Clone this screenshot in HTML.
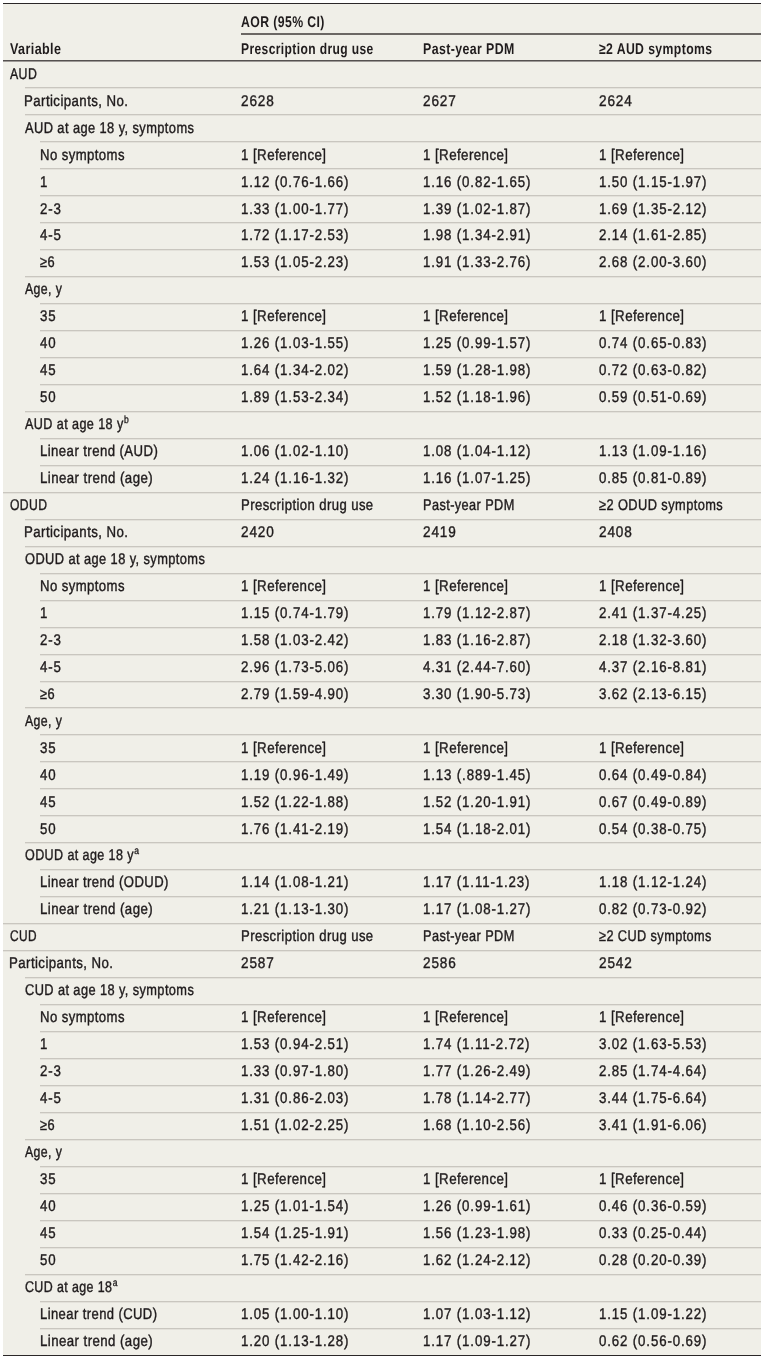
<!DOCTYPE html>
<html lang="en"><head><meta charset="utf-8"><title>Table</title>
<style>
html,body{margin:0;padding:0;background:#fff;}
body{width:764px;height:1358px;position:relative;overflow:hidden;
font-family:"Liberation Sans",Arial,sans-serif;color:#1f1b1c;}
.topline{position:absolute;left:3px;top:3px;width:758px;height:1px;background:#2b2728;}
.botline{position:absolute;left:3px;top:1355px;width:758px;height:1px;background:#2b2728;}
.bg{position:absolute;left:3px;top:4px;width:758px;height:1351px;background:#f0efe8;}
.hl{position:absolute;}
.sep{position:absolute;height:1px;background:#c9c6bf;box-shadow:0 1px 0 #e3e1da;}
.t{position:absolute;white-space:nowrap;text-rendering:geometricPrecision;font-size:15.5px;line-height:20px;height:20px;-webkit-text-stroke:0.4px #1f1b1c;}
.t span{display:inline-block;transform-origin:0 15px;}
.b{font-weight:bold;-webkit-text-stroke:0px #1f1b1c;}
.n span{transform:scaleX(0.98);}
.n{letter-spacing:1.0px;}
.w{letter-spacing:0.5px;}
.r{letter-spacing:0.5px;}
.b{letter-spacing:0.5px;}
sup{letter-spacing:0;}
.w span{transform:scaleX(0.9);}
.b span{transform:scaleX(0.83);}
.r span{transform:scaleX(0.905);}
sup{font-size:10.5px;line-height:0;vertical-align:5.5px;margin-left:0.4px;-webkit-text-stroke:0.35px #1f1b1c;}
</style></head><body>
<div class="topline"></div>
<div class="bg"></div>
<div class="botline"></div>

<div class="t b" style="left:240.80px;top:12.80px"><span style="transform:scale(0.7914,1.0)">AOR (95% CI)</span></div>
<div class="hl" style="left:241.00px;top:33px;width:520.00px;height:2px;background:#6b6764"></div>
<div class="t b" style="left:10.00px;top:39.80px"><span style="transform:scale(0.8097,1.0)">Variable</span></div>
<div class="t b" style="left:240.80px;top:39.80px"><span style="transform:scale(0.7769,1.0)">Prescription drug use</span></div>
<div class="t b" style="left:423.00px;top:39.80px"><span style="transform:scale(0.7973,1.0)">Past-year PDM</span></div>
<div class="t b" style="left:599.00px;top:39.80px"><span style="transform:scale(0.7895,1.0)">≥2 AUD symptoms</span></div>
<div class="hl" style="left:3px;top:60px;width:758px;height:1px;background:#555150"></div>
<div class="hl" style="left:3px;top:61px;width:758px;height:1px;background:#9d9996"></div>
<div class="t w" style="left:10.00px;top:64.80px"><span style="transform:scale(0.7939,1.0)">AUD</span></div>
<div class="sep" style="left:25px;top:87px;width:736px"></div>
<div class="t w" style="left:24.20px;top:91.80px"><span style="transform:scale(0.8542,1.0)">Participants, No.</span></div>
<div class="t n" style="left:240.80px;top:91.80px"><span style="transform:scale(0.8757,1.0)">2628</span></div>
<div class="t n" style="left:423.00px;top:91.80px"><span style="transform:scale(0.8757,1.0)">2627</span></div>
<div class="t n" style="left:599.00px;top:91.80px"><span style="transform:scale(0.8757,1.0)">2624</span></div>
<div class="sep" style="left:25px;top:114px;width:736px"></div>
<div class="t w" style="left:25.00px;top:118.80px"><span style="transform:scale(0.8289,1.0)">AUD at age 18 y, symptoms</span></div>
<div class="sep" style="left:40px;top:141px;width:721px"></div>
<div class="t w" style="left:40.00px;top:145.80px"><span style="transform:scale(0.8475,1.0)">No symptoms</span></div>
<div class="t r" style="left:240.80px;top:145.80px"><span style="transform:scale(0.8588,1.0)">1 [Reference]</span></div>
<div class="t r" style="left:423.00px;top:145.80px"><span style="transform:scale(0.8588,1.0)">1 [Reference]</span></div>
<div class="t r" style="left:599.00px;top:145.80px"><span style="transform:scale(0.8588,1.0)">1 [Reference]</span></div>
<div class="sep" style="left:40px;top:168px;width:721px"></div>
<div class="t n" style="left:40.00px;top:172.80px"><span style="transform:scale(0.8569,1.0)">1</span></div>
<div class="t n" style="left:240.80px;top:172.80px"><span style="transform:scale(0.8569,1.0)">1.12 (0.76-1.66)</span></div>
<div class="t n" style="left:423.00px;top:172.80px"><span style="transform:scale(0.8569,1.0)">1.16 (0.82-1.65)</span></div>
<div class="t n" style="left:599.00px;top:172.80px"><span style="transform:scale(0.8569,1.0)">1.50 (1.15-1.97)</span></div>
<div class="sep" style="left:40px;top:195px;width:721px"></div>
<div class="t n" style="left:40.00px;top:199.80px"><span style="transform:scale(0.8569,1.0)">2-3</span></div>
<div class="t n" style="left:240.80px;top:199.80px"><span style="transform:scale(0.8569,1.0)">1.33 (1.00-1.77)</span></div>
<div class="t n" style="left:423.00px;top:199.80px"><span style="transform:scale(0.8569,1.0)">1.39 (1.02-1.87)</span></div>
<div class="t n" style="left:599.00px;top:199.80px"><span style="transform:scale(0.8569,1.0)">1.69 (1.35-2.12)</span></div>
<div class="sep" style="left:40px;top:222px;width:721px"></div>
<div class="t n" style="left:40.00px;top:225.80px"><span style="transform:scale(0.8569,1.0)">4-5</span></div>
<div class="t n" style="left:240.80px;top:225.80px"><span style="transform:scale(0.8569,1.0)">1.72 (1.17-2.53)</span></div>
<div class="t n" style="left:423.00px;top:225.80px"><span style="transform:scale(0.8569,1.0)">1.98 (1.34-2.91)</span></div>
<div class="t n" style="left:599.00px;top:225.80px"><span style="transform:scale(0.8569,1.0)">2.14 (1.61-2.85)</span></div>
<div class="sep" style="left:40px;top:249px;width:721px"></div>
<div class="t w" style="left:40.00px;top:252.80px"><span style="transform:scale(0.8272,1.0)">≥6</span></div>
<div class="t n" style="left:240.80px;top:252.80px"><span style="transform:scale(0.8569,1.0)">1.53 (1.05-2.23)</span></div>
<div class="t n" style="left:423.00px;top:252.80px"><span style="transform:scale(0.8569,1.0)">1.91 (1.33-2.76)</span></div>
<div class="t n" style="left:599.00px;top:252.80px"><span style="transform:scale(0.8569,1.0)">2.68 (2.00-3.60)</span></div>
<div class="sep" style="left:25px;top:276px;width:736px"></div>
<div class="t w" style="left:25.00px;top:279.80px"><span style="transform:scale(0.7936,1.0)">Age, y</span></div>
<div class="sep" style="left:40px;top:303px;width:721px"></div>
<div class="t n" style="left:40.00px;top:306.80px"><span style="transform:scale(0.8569,1.0)">35</span></div>
<div class="t r" style="left:240.80px;top:306.80px"><span style="transform:scale(0.8588,1.0)">1 [Reference]</span></div>
<div class="t r" style="left:423.00px;top:306.80px"><span style="transform:scale(0.8588,1.0)">1 [Reference]</span></div>
<div class="t r" style="left:599.00px;top:306.80px"><span style="transform:scale(0.8588,1.0)">1 [Reference]</span></div>
<div class="sep" style="left:40px;top:330px;width:721px"></div>
<div class="t n" style="left:40.00px;top:333.80px"><span style="transform:scale(0.8569,1.0)">40</span></div>
<div class="t n" style="left:240.80px;top:333.80px"><span style="transform:scale(0.8569,1.0)">1.26 (1.03-1.55)</span></div>
<div class="t n" style="left:423.00px;top:333.80px"><span style="transform:scale(0.8569,1.0)">1.25 (0.99-1.57)</span></div>
<div class="t n" style="left:599.00px;top:333.80px"><span style="transform:scale(0.8569,1.0)">0.74 (0.65-0.83)</span></div>
<div class="sep" style="left:40px;top:357px;width:721px"></div>
<div class="t n" style="left:40.00px;top:360.80px"><span style="transform:scale(0.8569,1.0)">45</span></div>
<div class="t n" style="left:240.80px;top:360.80px"><span style="transform:scale(0.8569,1.0)">1.64 (1.34-2.02)</span></div>
<div class="t n" style="left:423.00px;top:360.80px"><span style="transform:scale(0.8569,1.0)">1.59 (1.28-1.98)</span></div>
<div class="t n" style="left:599.00px;top:360.80px"><span style="transform:scale(0.8569,1.0)">0.72 (0.63-0.82)</span></div>
<div class="sep" style="left:40px;top:384px;width:721px"></div>
<div class="t n" style="left:40.00px;top:387.80px"><span style="transform:scale(0.8569,1.0)">50</span></div>
<div class="t n" style="left:240.80px;top:387.80px"><span style="transform:scale(0.8569,1.0)">1.89 (1.53-2.34)</span></div>
<div class="t n" style="left:423.00px;top:387.80px"><span style="transform:scale(0.8569,1.0)">1.52 (1.18-1.96)</span></div>
<div class="t n" style="left:599.00px;top:387.80px"><span style="transform:scale(0.8569,1.0)">0.59 (0.51-0.69)</span></div>
<div class="sep" style="left:25px;top:411px;width:736px"></div>
<div class="t w" style="left:25.00px;top:414.80px"><span style="transform:scale(0.8133,1.0)">AUD at age 18 y<sup>b</sup></span></div>
<div class="sep" style="left:40px;top:438px;width:721px"></div>
<div class="t w" style="left:40.00px;top:441.80px"><span style="transform:scale(0.8504,1.0)">Linear trend (AUD)</span></div>
<div class="t n" style="left:240.80px;top:441.80px"><span style="transform:scale(0.8569,1.0)">1.06 (1.02-1.10)</span></div>
<div class="t n" style="left:423.00px;top:441.80px"><span style="transform:scale(0.8569,1.0)">1.08 (1.04-1.12)</span></div>
<div class="t n" style="left:599.00px;top:441.80px"><span style="transform:scale(0.8569,1.0)">1.13 (1.09-1.16)</span></div>
<div class="sep" style="left:40px;top:465px;width:721px"></div>
<div class="t w" style="left:40.00px;top:468.80px"><span style="transform:scale(0.8554,1.0)">Linear trend (age)</span></div>
<div class="t n" style="left:240.80px;top:468.80px"><span style="transform:scale(0.8569,1.0)">1.24 (1.16-1.32)</span></div>
<div class="t n" style="left:423.00px;top:468.80px"><span style="transform:scale(0.8569,1.0)">1.16 (1.07-1.25)</span></div>
<div class="t n" style="left:599.00px;top:468.80px"><span style="transform:scale(0.8569,1.0)">0.85 (0.81-0.89)</span></div>
<div class="sep" style="left:3px;top:492px;width:758px"></div>
<div class="t w" style="left:10.00px;top:495.80px"><span style="transform:scale(0.7851,1.0)">ODUD</span></div>
<div class="t w" style="left:240.80px;top:495.80px"><span style="transform:scale(0.8445,1.0)">Prescription drug use</span></div>
<div class="t w" style="left:423.00px;top:495.80px"><span style="transform:scale(0.8220,1.0)">Past-year PDM</span></div>
<div class="t w" style="left:599.00px;top:495.80px"><span style="transform:scale(0.8275,1.0)">≥2 ODUD symptoms</span></div>
<div class="sep" style="left:25px;top:519px;width:736px"></div>
<div class="t w" style="left:24.20px;top:522.80px"><span style="transform:scale(0.8542,1.0)">Participants, No.</span></div>
<div class="t n" style="left:240.80px;top:522.80px"><span style="transform:scale(0.8757,1.0)">2420</span></div>
<div class="t n" style="left:423.00px;top:522.80px"><span style="transform:scale(0.8757,1.0)">2419</span></div>
<div class="t n" style="left:599.00px;top:522.80px"><span style="transform:scale(0.8757,1.0)">2408</span></div>
<div class="sep" style="left:25px;top:546px;width:736px"></div>
<div class="t w" style="left:25.00px;top:549.80px"><span style="transform:scale(0.8281,1.0)">ODUD at age 18 y, symptoms</span></div>
<div class="sep" style="left:40px;top:573px;width:721px"></div>
<div class="t w" style="left:40.00px;top:576.80px"><span style="transform:scale(0.8475,1.0)">No symptoms</span></div>
<div class="t r" style="left:240.80px;top:576.80px"><span style="transform:scale(0.8588,1.0)">1 [Reference]</span></div>
<div class="t r" style="left:423.00px;top:576.80px"><span style="transform:scale(0.8588,1.0)">1 [Reference]</span></div>
<div class="t r" style="left:599.00px;top:576.80px"><span style="transform:scale(0.8588,1.0)">1 [Reference]</span></div>
<div class="sep" style="left:40px;top:600px;width:721px"></div>
<div class="t n" style="left:40.00px;top:603.80px"><span style="transform:scale(0.8569,1.0)">1</span></div>
<div class="t n" style="left:240.80px;top:603.80px"><span style="transform:scale(0.8569,1.0)">1.15 (0.74-1.79)</span></div>
<div class="t n" style="left:423.00px;top:603.80px"><span style="transform:scale(0.8569,1.0)">1.79 (1.12-2.87)</span></div>
<div class="t n" style="left:599.00px;top:603.80px"><span style="transform:scale(0.8569,1.0)">2.41 (1.37-4.25)</span></div>
<div class="sep" style="left:40px;top:627px;width:721px"></div>
<div class="t n" style="left:40.00px;top:630.80px"><span style="transform:scale(0.8569,1.0)">2-3</span></div>
<div class="t n" style="left:240.80px;top:630.80px"><span style="transform:scale(0.8569,1.0)">1.58 (1.03-2.42)</span></div>
<div class="t n" style="left:423.00px;top:630.80px"><span style="transform:scale(0.8569,1.0)">1.83 (1.16-2.87)</span></div>
<div class="t n" style="left:599.00px;top:630.80px"><span style="transform:scale(0.8569,1.0)">2.18 (1.32-3.60)</span></div>
<div class="sep" style="left:40px;top:654px;width:721px"></div>
<div class="t n" style="left:40.00px;top:657.80px"><span style="transform:scale(0.8569,1.0)">4-5</span></div>
<div class="t n" style="left:240.80px;top:657.80px"><span style="transform:scale(0.8569,1.0)">2.96 (1.73-5.06)</span></div>
<div class="t n" style="left:423.00px;top:657.80px"><span style="transform:scale(0.8569,1.0)">4.31 (2.44-7.60)</span></div>
<div class="t n" style="left:599.00px;top:657.80px"><span style="transform:scale(0.8569,1.0)">4.37 (2.16-8.81)</span></div>
<div class="sep" style="left:40px;top:681px;width:721px"></div>
<div class="t w" style="left:40.00px;top:684.80px"><span style="transform:scale(0.8272,1.0)">≥6</span></div>
<div class="t n" style="left:240.80px;top:684.80px"><span style="transform:scale(0.8569,1.0)">2.79 (1.59-4.90)</span></div>
<div class="t n" style="left:423.00px;top:684.80px"><span style="transform:scale(0.8569,1.0)">3.30 (1.90-5.73)</span></div>
<div class="t n" style="left:599.00px;top:684.80px"><span style="transform:scale(0.8569,1.0)">3.62 (2.13-6.15)</span></div>
<div class="sep" style="left:25px;top:707px;width:736px"></div>
<div class="t w" style="left:25.00px;top:711.80px"><span style="transform:scale(0.7936,1.0)">Age, y</span></div>
<div class="sep" style="left:40px;top:734px;width:721px"></div>
<div class="t n" style="left:40.00px;top:738.80px"><span style="transform:scale(0.8569,1.0)">35</span></div>
<div class="t r" style="left:240.80px;top:738.80px"><span style="transform:scale(0.8588,1.0)">1 [Reference]</span></div>
<div class="t r" style="left:423.00px;top:738.80px"><span style="transform:scale(0.8588,1.0)">1 [Reference]</span></div>
<div class="t r" style="left:599.00px;top:738.80px"><span style="transform:scale(0.8588,1.0)">1 [Reference]</span></div>
<div class="sep" style="left:40px;top:761px;width:721px"></div>
<div class="t n" style="left:40.00px;top:765.80px"><span style="transform:scale(0.8569,1.0)">40</span></div>
<div class="t n" style="left:240.80px;top:765.80px"><span style="transform:scale(0.8569,1.0)">1.19 (0.96-1.49)</span></div>
<div class="t n" style="left:423.00px;top:765.80px"><span style="transform:scale(0.8569,1.0)">1.13 (.889-1.45)</span></div>
<div class="t n" style="left:599.00px;top:765.80px"><span style="transform:scale(0.8569,1.0)">0.64 (0.49-0.84)</span></div>
<div class="sep" style="left:40px;top:788px;width:721px"></div>
<div class="t n" style="left:40.00px;top:792.80px"><span style="transform:scale(0.8569,1.0)">45</span></div>
<div class="t n" style="left:240.80px;top:792.80px"><span style="transform:scale(0.8569,1.0)">1.52 (1.22-1.88)</span></div>
<div class="t n" style="left:423.00px;top:792.80px"><span style="transform:scale(0.8569,1.0)">1.52 (1.20-1.91)</span></div>
<div class="t n" style="left:599.00px;top:792.80px"><span style="transform:scale(0.8569,1.0)">0.67 (0.49-0.89)</span></div>
<div class="sep" style="left:40px;top:815px;width:721px"></div>
<div class="t n" style="left:40.00px;top:819.80px"><span style="transform:scale(0.8569,1.0)">50</span></div>
<div class="t n" style="left:240.80px;top:819.80px"><span style="transform:scale(0.8569,1.0)">1.76 (1.41-2.19)</span></div>
<div class="t n" style="left:423.00px;top:819.80px"><span style="transform:scale(0.8569,1.0)">1.54 (1.18-2.01)</span></div>
<div class="t n" style="left:599.00px;top:819.80px"><span style="transform:scale(0.8569,1.0)">0.54 (0.38-0.75)</span></div>
<div class="sep" style="left:25px;top:842px;width:736px"></div>
<div class="t w" style="left:25.00px;top:845.80px"><span style="transform:scale(0.8085,1.0)">ODUD at age 18 y<sup>a</sup></span></div>
<div class="sep" style="left:40px;top:869px;width:721px"></div>
<div class="t w" style="left:40.00px;top:872.80px"><span style="transform:scale(0.8447,1.0)">Linear trend (ODUD)</span></div>
<div class="t n" style="left:240.80px;top:872.80px"><span style="transform:scale(0.8569,1.0)">1.14 (1.08-1.21)</span></div>
<div class="t n" style="left:423.00px;top:872.80px"><span style="transform:scale(0.8569,1.0)">1.17 (1.11-1.23)</span></div>
<div class="t n" style="left:599.00px;top:872.80px"><span style="transform:scale(0.8569,1.0)">1.18 (1.12-1.24)</span></div>
<div class="sep" style="left:40px;top:896px;width:721px"></div>
<div class="t w" style="left:40.00px;top:899.80px"><span style="transform:scale(0.8554,1.0)">Linear trend (age)</span></div>
<div class="t n" style="left:240.80px;top:899.80px"><span style="transform:scale(0.8569,1.0)">1.21 (1.13-1.30)</span></div>
<div class="t n" style="left:423.00px;top:899.80px"><span style="transform:scale(0.8569,1.0)">1.17 (1.08-1.27)</span></div>
<div class="t n" style="left:599.00px;top:899.80px"><span style="transform:scale(0.8569,1.0)">0.82 (0.73-0.92)</span></div>
<div class="sep" style="left:3px;top:923px;width:758px"></div>
<div class="t w" style="left:10.00px;top:926.80px"><span style="transform:scale(0.7647,1.0)">CUD</span></div>
<div class="t w" style="left:240.80px;top:926.80px"><span style="transform:scale(0.8445,1.0)">Prescription drug use</span></div>
<div class="t w" style="left:423.00px;top:926.80px"><span style="transform:scale(0.8220,1.0)">Past-year PDM</span></div>
<div class="t w" style="left:599.00px;top:926.80px"><span style="transform:scale(0.8212,1.0)">≥2 CUD symptoms</span></div>
<div class="sep" style="left:3px;top:950px;width:758px"></div>
<div class="t w" style="left:9.20px;top:953.80px"><span style="transform:scale(0.8542,1.0)">Participants, No.</span></div>
<div class="t n" style="left:240.80px;top:953.80px"><span style="transform:scale(0.8757,1.0)">2587</span></div>
<div class="t n" style="left:423.00px;top:953.80px"><span style="transform:scale(0.8757,1.0)">2586</span></div>
<div class="t n" style="left:599.00px;top:953.80px"><span style="transform:scale(0.8757,1.0)">2542</span></div>
<div class="sep" style="left:25px;top:977px;width:736px"></div>
<div class="t w" style="left:25.00px;top:980.80px"><span style="transform:scale(0.8249,1.0)">CUD at age 18 y, symptoms</span></div>
<div class="sep" style="left:40px;top:1004px;width:721px"></div>
<div class="t w" style="left:40.00px;top:1007.80px"><span style="transform:scale(0.8475,1.0)">No symptoms</span></div>
<div class="t r" style="left:240.80px;top:1007.80px"><span style="transform:scale(0.8588,1.0)">1 [Reference]</span></div>
<div class="t r" style="left:423.00px;top:1007.80px"><span style="transform:scale(0.8588,1.0)">1 [Reference]</span></div>
<div class="t r" style="left:599.00px;top:1007.80px"><span style="transform:scale(0.8588,1.0)">1 [Reference]</span></div>
<div class="sep" style="left:40px;top:1031px;width:721px"></div>
<div class="t n" style="left:40.00px;top:1034.80px"><span style="transform:scale(0.8569,1.0)">1</span></div>
<div class="t n" style="left:240.80px;top:1034.80px"><span style="transform:scale(0.8569,1.0)">1.53 (0.94-2.51)</span></div>
<div class="t n" style="left:423.00px;top:1034.80px"><span style="transform:scale(0.8569,1.0)">1.74 (1.11-2.72)</span></div>
<div class="t n" style="left:599.00px;top:1034.80px"><span style="transform:scale(0.8569,1.0)">3.02 (1.63-5.53)</span></div>
<div class="sep" style="left:40px;top:1058px;width:721px"></div>
<div class="t n" style="left:40.00px;top:1061.80px"><span style="transform:scale(0.8569,1.0)">2-3</span></div>
<div class="t n" style="left:240.80px;top:1061.80px"><span style="transform:scale(0.8569,1.0)">1.33 (0.97-1.80)</span></div>
<div class="t n" style="left:423.00px;top:1061.80px"><span style="transform:scale(0.8569,1.0)">1.77 (1.26-2.49)</span></div>
<div class="t n" style="left:599.00px;top:1061.80px"><span style="transform:scale(0.8569,1.0)">2.85 (1.74-4.64)</span></div>
<div class="sep" style="left:40px;top:1085px;width:721px"></div>
<div class="t n" style="left:40.00px;top:1088.80px"><span style="transform:scale(0.8569,1.0)">4-5</span></div>
<div class="t n" style="left:240.80px;top:1088.80px"><span style="transform:scale(0.8569,1.0)">1.31 (0.86-2.03)</span></div>
<div class="t n" style="left:423.00px;top:1088.80px"><span style="transform:scale(0.8569,1.0)">1.78 (1.14-2.77)</span></div>
<div class="t n" style="left:599.00px;top:1088.80px"><span style="transform:scale(0.8569,1.0)">3.44 (1.75-6.64)</span></div>
<div class="sep" style="left:40px;top:1112px;width:721px"></div>
<div class="t w" style="left:40.00px;top:1115.80px"><span style="transform:scale(0.8272,1.0)">≥6</span></div>
<div class="t n" style="left:240.80px;top:1115.80px"><span style="transform:scale(0.8569,1.0)">1.51 (1.02-2.25)</span></div>
<div class="t n" style="left:423.00px;top:1115.80px"><span style="transform:scale(0.8569,1.0)">1.68 (1.10-2.56)</span></div>
<div class="t n" style="left:599.00px;top:1115.80px"><span style="transform:scale(0.8569,1.0)">3.41 (1.91-6.06)</span></div>
<div class="sep" style="left:25px;top:1139px;width:736px"></div>
<div class="t w" style="left:25.00px;top:1142.80px"><span style="transform:scale(0.7936,1.0)">Age, y</span></div>
<div class="sep" style="left:40px;top:1166px;width:721px"></div>
<div class="t n" style="left:40.00px;top:1169.80px"><span style="transform:scale(0.8569,1.0)">35</span></div>
<div class="t r" style="left:240.80px;top:1169.80px"><span style="transform:scale(0.8588,1.0)">1 [Reference]</span></div>
<div class="t r" style="left:423.00px;top:1169.80px"><span style="transform:scale(0.8588,1.0)">1 [Reference]</span></div>
<div class="t r" style="left:599.00px;top:1169.80px"><span style="transform:scale(0.8588,1.0)">1 [Reference]</span></div>
<div class="sep" style="left:40px;top:1193px;width:721px"></div>
<div class="t n" style="left:40.00px;top:1196.80px"><span style="transform:scale(0.8569,1.0)">40</span></div>
<div class="t n" style="left:240.80px;top:1196.80px"><span style="transform:scale(0.8569,1.0)">1.25 (1.01-1.54)</span></div>
<div class="t n" style="left:423.00px;top:1196.80px"><span style="transform:scale(0.8569,1.0)">1.26 (0.99-1.61)</span></div>
<div class="t n" style="left:599.00px;top:1196.80px"><span style="transform:scale(0.8569,1.0)">0.46 (0.36-0.59)</span></div>
<div class="sep" style="left:40px;top:1220px;width:721px"></div>
<div class="t n" style="left:40.00px;top:1223.80px"><span style="transform:scale(0.8569,1.0)">45</span></div>
<div class="t n" style="left:240.80px;top:1223.80px"><span style="transform:scale(0.8569,1.0)">1.54 (1.25-1.91)</span></div>
<div class="t n" style="left:423.00px;top:1223.80px"><span style="transform:scale(0.8569,1.0)">1.56 (1.23-1.98)</span></div>
<div class="t n" style="left:599.00px;top:1223.80px"><span style="transform:scale(0.8569,1.0)">0.33 (0.25-0.44)</span></div>
<div class="sep" style="left:40px;top:1247px;width:721px"></div>
<div class="t n" style="left:40.00px;top:1250.80px"><span style="transform:scale(0.8569,1.0)">50</span></div>
<div class="t n" style="left:240.80px;top:1250.80px"><span style="transform:scale(0.8569,1.0)">1.75 (1.42-2.16)</span></div>
<div class="t n" style="left:423.00px;top:1250.80px"><span style="transform:scale(0.8569,1.0)">1.62 (1.24-2.12)</span></div>
<div class="t n" style="left:599.00px;top:1250.80px"><span style="transform:scale(0.8569,1.0)">0.28 (0.20-0.39)</span></div>
<div class="sep" style="left:25px;top:1274px;width:736px"></div>
<div class="t w" style="left:25.00px;top:1277.80px"><span style="transform:scale(0.8017,1.0)">CUD at age 18<sup>a</sup></span></div>
<div class="sep" style="left:40px;top:1301px;width:721px"></div>
<div class="t w" style="left:40.00px;top:1304.80px"><span style="transform:scale(0.8391,1.0)">Linear trend (CUD)</span></div>
<div class="t n" style="left:240.80px;top:1304.80px"><span style="transform:scale(0.8569,1.0)">1.05 (1.00-1.10)</span></div>
<div class="t n" style="left:423.00px;top:1304.80px"><span style="transform:scale(0.8569,1.0)">1.07 (1.03-1.12)</span></div>
<div class="t n" style="left:599.00px;top:1304.80px"><span style="transform:scale(0.8569,1.0)">1.15 (1.09-1.22)</span></div>
<div class="sep" style="left:40px;top:1328px;width:721px"></div>
<div class="t w" style="left:40.00px;top:1331.80px"><span style="transform:scale(0.8554,1.0)">Linear trend (age)</span></div>
<div class="t n" style="left:240.80px;top:1331.80px"><span style="transform:scale(0.8569,1.0)">1.20 (1.13-1.28)</span></div>
<div class="t n" style="left:423.00px;top:1331.80px"><span style="transform:scale(0.8569,1.0)">1.17 (1.09-1.27)</span></div>
<div class="t n" style="left:599.00px;top:1331.80px"><span style="transform:scale(0.8569,1.0)">0.62 (0.56-0.69)</span></div>
</body></html>
